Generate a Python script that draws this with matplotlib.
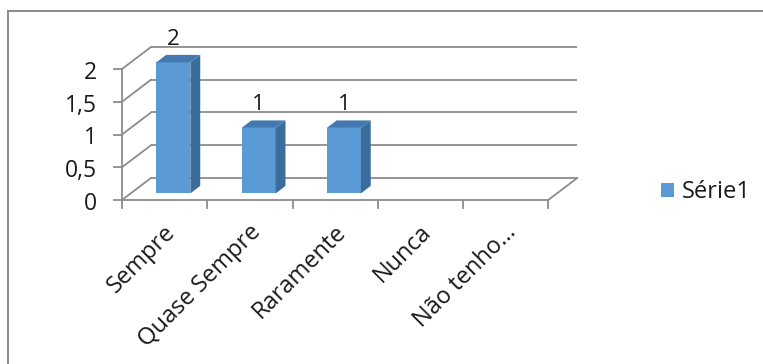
import matplotlib
matplotlib.use("Agg")
import matplotlib.pyplot as plt
from matplotlib.patches import Polygon

plt.rcParams['font.family'] = ['Open Sans', 'DejaVu Sans']

categories = ["Sempre", "Quase Sempre", "Raramente", "Nunca", "Não tenho…"]
values = [2, 1, 1, 0, 0]
series_name = "Série1"
y_ticks = [0, 0.5, 1, 1.5, 2]
y_tick_labels = ["0", "0,5", "1", "1,5", "2"]

W, H, DPI = 763, 364, 100
fig = plt.figure(figsize=(W / DPI, H / DPI), dpi=DPI)
ax = fig.add_axes([0, 0, 1, 1])

# pixel layout of the pseudo-3D plot frame
x0_px, cat_px = 122.0, 85.25      # left edge of front floor, width per category
y0_px, unit_px = 200.0, 65.5      # front floor line, pixels per value unit
depth_px = (29.0, 22.0)           # back-wall offset (right, up)

ax.set_xlim(-0.5 - x0_px / cat_px, -0.5 + (W - x0_px) / cat_px)
ax.set_ylim((y0_px - H) / unit_px, y0_px / unit_px)
ax.axis("off")

DX = depth_px[0] / cat_px
DY = depth_px[1] / unit_px
n = len(categories)
xl, xr = -0.5, n - 0.5
ymax = y_ticks[-1]

grid_c = "#8c8c8c"
text_c = "#1a1a1a"
lw = 1.3

# back wall gridlines and left-wall diagonals
for v in y_ticks:
    ax.plot([xl + DX, xr + DX], [v + DY, v + DY], color=grid_c, lw=lw, zorder=1,
            solid_capstyle="butt")
    ax.plot([xl, xl + DX], [v, v + DY], color=grid_c, lw=lw, zorder=1)

# floor front edge and right edge
ax.plot([xl, xr], [0, 0], color=grid_c, lw=lw, zorder=1)
ax.plot([xr, xr + DX], [0, DY], color=grid_c, lw=lw, zorder=1)

# value axis line
ax.plot([xl, xl], [0, ymax], color=grid_c, lw=lw, zorder=1)

tick_len_x = 8 / cat_px
tick_len_y = 8 / unit_px
for v, lab in zip(y_ticks, y_tick_labels):
    ax.plot([xl - tick_len_x, xl], [v, v], color=grid_c, lw=lw, zorder=1)
    ax.annotate(lab, xy=(xl, v), xytext=(-25, -4), textcoords="offset pixels",
                ha="right", va="center", fontsize=16.5, color=text_c)

for i in range(n + 1):
    ax.plot([xl + i, xl + i], [0, -tick_len_y], color=grid_c, lw=lw, zorder=1)

for i, lab in enumerate(categories):
    ax.annotate(lab, xy=(i, 0), xytext=(-1, -20), textcoords="offset pixels",
                ha="right", va="top", rotation=45, rotation_mode="anchor",
                fontsize=17, color=text_c)

# columns: front face, side and top
F0, FB, BW = 0.30, 0.34, 0.40
front_c, side_c, top_c = "#5b9bd5", "#3a6d9c", "#4379b0"
fx0, fy0 = F0 * DX, F0 * DY
bx, by = FB * DX, FB * DY

bars = ax.bar([i + fx0 for i in range(n)], values, width=BW, bottom=fy0,
              color=front_c, zorder=3, label=series_name, linewidth=0)
for i, v in enumerate(values):
    if v <= 0:
        continue
    left = i + fx0 - BW / 2
    right = i + fx0 + BW / 2
    bot = fy0
    top = fy0 + v
    side = Polygon([(right, bot), (right + bx, bot + by), (right + bx, top + by),
                    (right, top)], closed=True, facecolor=side_c, edgecolor="none",
                   zorder=3)
    cap = Polygon([(left, top), (right, top), (right + bx, top + by),
                   (left + bx, top + by)], closed=True, facecolor=top_c,
                  edgecolor="none", zorder=3)
    ax.add_patch(side)
    ax.add_patch(cap)
    ax.annotate(f"{v:g}", xy=(i + fx0, top + by), xytext=(0, 10),
                textcoords="offset pixels", ha="center", va="baseline",
                fontsize=16, color=text_c)

# legend
leg = ax.legend(handles=[bars], loc="center left", frameon=False,
                bbox_to_anchor=(661 / W, 1 - 192 / H), fontsize=17,
                handlelength=0.55, handleheight=0.55, handletextpad=0.35,
                borderaxespad=0, borderpad=0)
for t in leg.get_texts():
    t.set_color(text_c)

# chart-area border (top and left edges)
ax.plot([8 / W, 1], [1 - 11 / H, 1 - 11 / H], transform=ax.transAxes,
        color="#8a8a8a", lw=1.4, clip_on=False)
ax.plot([8 / W, 8 / W], [1 - 11 / H, 0], transform=ax.transAxes,
        color="#8a8a8a", lw=1.4, clip_on=False)

fig.savefig("out.png", dpi=DPI)
